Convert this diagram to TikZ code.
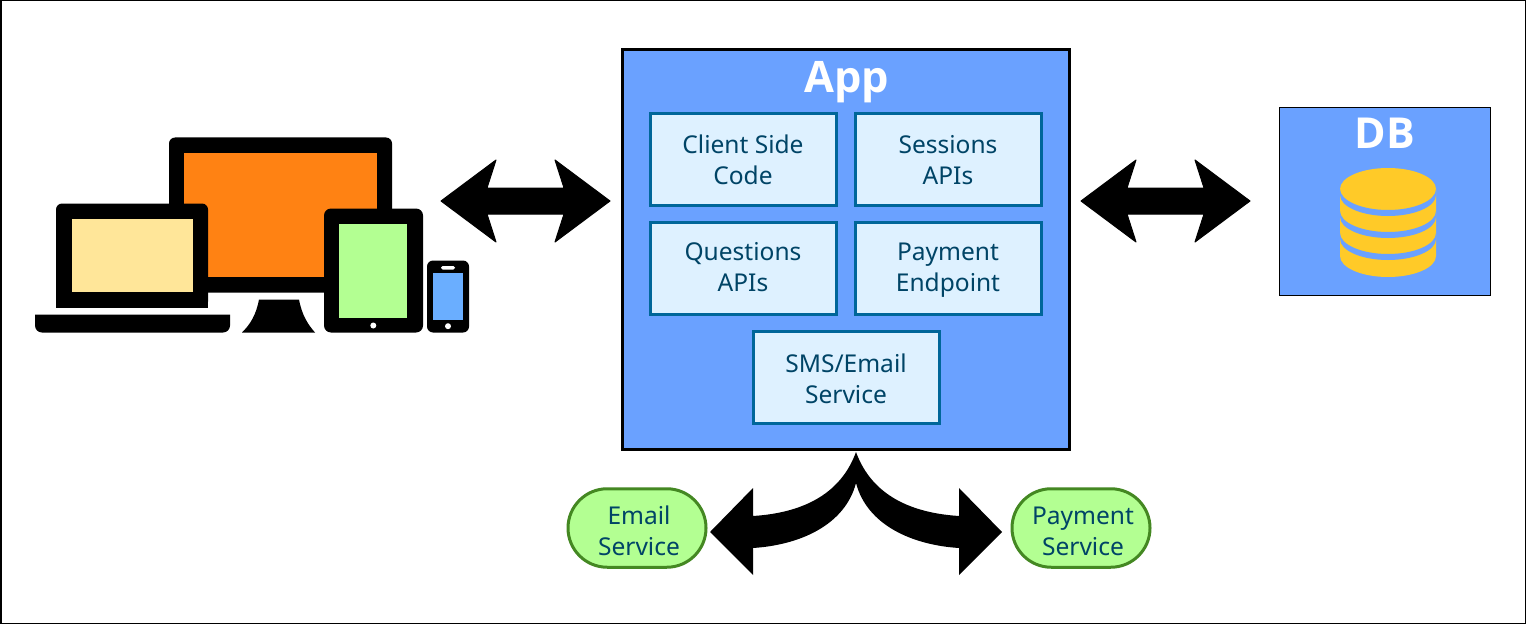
\documentclass[tikz,border=0pt]{standalone}
\usepackage{fontspec}
\setmainfont{Noto Sans}
\newfontfamily\titlefam{Open Sans}
\usetikzlibrary{calc,shapes.misc}
\definecolor{appblue}{HTML}{6AA1FF}
\definecolor{innerfill}{HTML}{DEF1FF}
\definecolor{innerline}{HTML}{006699}
\definecolor{inktext}{HTML}{004466}
\definecolor{pillfill}{HTML}{B3FF92}
\definecolor{pillline}{HTML}{448822}
\definecolor{orangescr}{HTML}{FF8213}
\definecolor{yellowscr}{HTML}{FFE699}
\definecolor{phonescr}{HTML}{6AAEFF}
\definecolor{dbyellow}{HTML}{FFCA28}
\newcommand{\firstln}[2]{\rule[-5.5pt]{0pt}{#1}#2}
\newcommand{\lineup}[1]{\rule[-5.5pt]{0pt}{17.5pt}#1}
\tikzset{
  x=0.75pt,y=-0.75pt,
  px/.style={line width=#1*0.75pt},
  appbox/.style={draw=black,fill=appblue,px=3,minimum width=447*0.75pt,minimum height=399*0.75pt,inner sep=0pt,outer sep=0pt},
  dbbox/.style={draw=black,fill=appblue,px=1,minimum width=211*0.75pt,minimum height=187.5*0.75pt,inner sep=0pt,outer sep=0pt},
  inner/.style={draw=innerline,fill=innerfill,px=3,minimum width=186*0.75pt,minimum height=91.5*0.75pt,inner sep=0pt,outer sep=0pt,
    text=inktext,font=\fontsize{18.4pt}{23.2pt}\selectfont,align=center},
  pill/.style={rounded rectangle,draw=pillline,fill=pillfill,px=3,minimum width=138*0.75pt,minimum height=78.5*0.75pt,inner sep=0pt,outer sep=0pt},
  pilltext/.style={text=inktext,font=\fontsize{18.4pt}{23.2pt}\selectfont,align=center,inner sep=0pt},
  title/.style={text=white,font=\titlefam\bfseries\fontsize{#1}{#1}\selectfont,inner sep=0pt},
  ink/.style={fill=black,draw=none},
  blockarrow/.style={fill=black,draw=black,px=1,line join=round},
  curvearrow/.style={fill=black,draw=none},
}
\begin{document}
\begin{tikzpicture}
\useasboundingbox (0,0) rectangle (1526,624);
\draw[px=1.5,fill=white] (0.75,0.75) rectangle (1525.25,623.25);

% devices
\begin{scope}[yshift=-0.375pt]
\fill[ink,rounded corners=6*0.75pt] (169,292) -- (169,137) -- (392,137) -- (392,292) -- cycle;
\fill[orangescr] (184,153) rectangle (377,276);
\fill[ink] (259,299) -- (299,299) .. controls (302,315) and (308,324) .. (315,332) -- (242,332) .. controls (250,324) and (256,315) .. (259,299) -- cycle;
\fill[ink,rounded corners=6*0.75pt] (56,307) -- (56,203) -- (208,203) -- (208,307) -- cycle;
\fill[ink] (56,290) rectangle (208,307);
\fill[yellowscr] (72,218) rectangle (193,291);
\fill[ink] (35,314) -- (230,314) -- (230,322) [rounded corners=7*0.75pt] -- (230,332) -- (35,332) [sharp corners] -- (35,322) -- cycle;
\fill[ink,rounded corners=7*0.75pt] (324,208) rectangle (423,332);
\fill[pillfill] (339,223) rectangle (407,317);
\fill[white] (373.3,325) circle (3);
\fill[ink,rounded corners=6*0.75pt] (427,260) rectangle (469,332);
\fill[phonescr] (433,272) rectangle (463,319);
\fill[white,rounded corners=1.3pt] (441,265.5) rectangle (455,269);
\fill[white] (448,325.7) circle (3);
\end{scope}

% app
\node[appbox] (app) at (845.5,249.5) {};
\node[title=32.5pt] (apptitle) at (846.5,82.5) {App};
\node[inner] (client) at (743,159.5) {\firstln{25pt}{Client Side}\\\lineup{Code}};
\node[inner] (sessions) at (948,159.5) {\firstln{25pt}{Sessions}\\\lineup{APIs}};
\node[inner] (questions) at (743,268.5) {\firstln{22pt}{Questions}\\\lineup{APIs}};
\node[inner] (payment) at (948,268.5) {\firstln{22pt}{Payment}\\\lineup{Endpoint}};
\node[inner] (sms) at (846,377.5) {\firstln{26.5pt}{SMS/Email}\\\lineup{Service}};

% db
\node[dbbox] (db) at (1385,201.25) {};
\node[title=32pt] (dbtitle) at (1385,133) {DB};
\fill[dbyellow] (1340,189) -- (1340,256) arc[start angle=180,end angle=0,x radius=48,y radius=21] -- (1436,189) arc[start angle=0,end angle=-180,x radius=48,y radius=21] -- cycle;
\foreach \k in {0,1,2}{
  \fill[appblue] (1340,189+22*\k) arc[start angle=180,end angle=0,x radius=48,y radius=21]
     -- (1436,195+22*\k) arc[start angle=0,end angle=180,x radius=48,y radius=21] -- cycle;
}

% pills
\node[pill] (email) at (637,528) {};
\node[pilltext] (emailtext) at (639,534.5) {\lineup{Email}\\\lineup{Service}};
\node[pill] (paysvc) at (1081,528) {};
\node[pilltext] (paytext) at (1083,534.5) {\lineup{Payment}\\\lineup{Service}};

% connectors
\coordinate (devR) at (441,201);
\coordinate (appL) at (610,201);
\coordinate (appR) at (1081,201);
\coordinate (dbL) at (1250,201);
\coordinate (appS) at (856,452);
\coordinate (emailE) at (710,532);
\coordinate (payW) at (1002,532);
\foreach \a/\b in {devR/appL,appR/dbL}{
  \filldraw[blockarrow] (\a) -- ($(\a)+(55,-41)$) -- ($(\a)+(46,-13)$) -- ($(\b)+(-46,-13)$) -- ($(\b)+(-55,-41)$) -- (\b)
    -- ($(\b)+(-55,41)$) -- ($(\b)+(-46,13)$) -- ($(\a)+(46,13)$) -- ($(\a)+(55,41)$) -- cycle;
}
\fill[curvearrow] (appS) .. controls ($(appS)+(-16,44)$) and ($(appS)+(-56,61)$) .. ($(appS)+(-103,64)$)
  -- ($(emailE)+(43,-44)$) -- (emailE) -- ($(emailE)+(43,43)$) -- ($(emailE)+(43,16)$)
  .. controls ($(emailE)+(90,13)$) and ($(emailE)+(135,-7)$) .. ($(appS)+(0,31)$)
  .. controls ($(payW)+(-135,-7)$) and ($(payW)+(-90,13)$) .. ($(payW)+(-43,16)$)
  -- ($(payW)+(-43,43)$) -- (payW) -- ($(payW)+(-43,-44)$) -- ($(appS)+(103,64)$)
  .. controls ($(appS)+(56,61)$) and ($(appS)+(16,44)$) .. (appS) -- cycle;
\end{tikzpicture}
\end{document}
